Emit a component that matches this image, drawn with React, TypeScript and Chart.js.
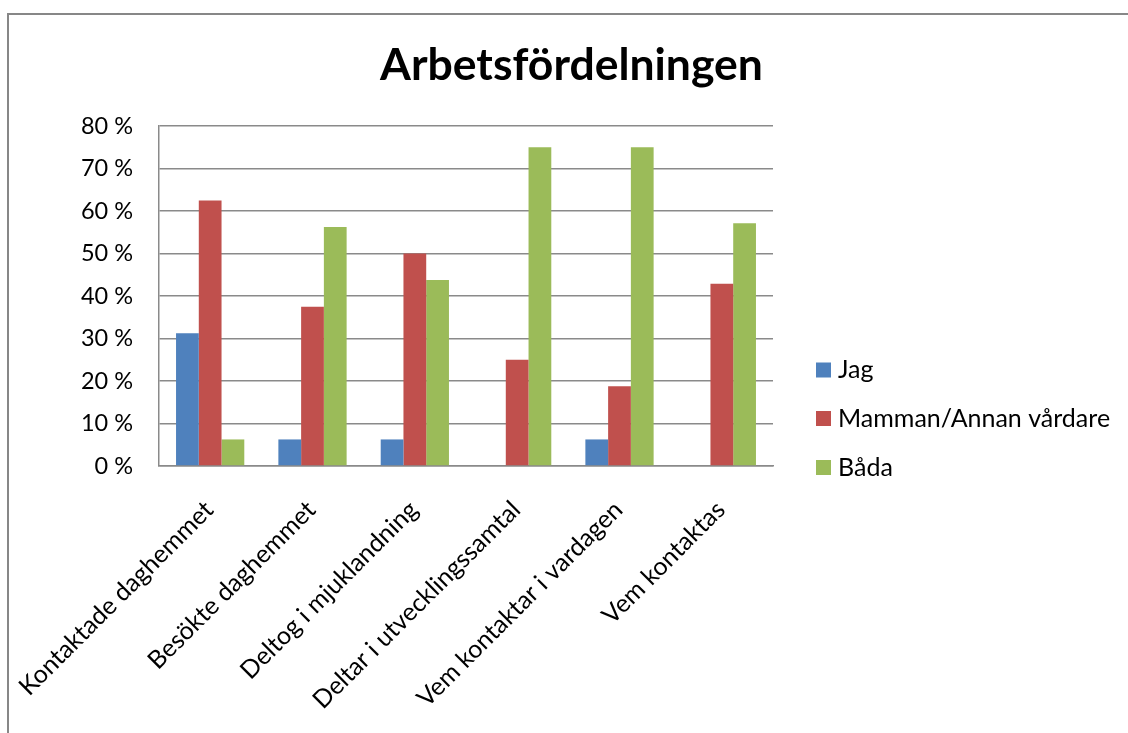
import React, { useEffect, useRef } from "react";
import { Chart, registerables } from "chart.js";

Chart.register(...registerables);

const TITLE = "Arbetsfördelningen";
const categories = [
  "Kontaktade daghemmet",
  "Besökte daghemmet",
  "Deltog i mjuklandning",
  "Deltar i utvecklingssamtal",
  "Vem kontaktar i vardagen",
  "Vem kontaktas",
];
const seriesNames = ["Jag", "Mamman/Annan vårdare", "Båda"];
const jagValues = [31.25, 6.25, 6.25, 0, 6.25, 0];
const mammanValues = [62.5, 37.5, 50, 25, 18.75, 42.86];
const badaValues = [6.25, 56.25, 43.75, 75, 75, 57.14];
const seriesColors = ["#4F81BD", "#C0504D", "#9BBB59"];
const yTicks = [0, 10, 20, 30, 40, 50, 60, 70, 80];

const FONT = "Lato, 'Open Sans', sans-serif";
const GRID = "#8a8a8a";

const legendPlugin = {
  id: "customLegend",
  afterDraw(chart: any) {
    const ctx = chart.ctx;
    const x0 = 816;
    const rows = [370, 418.5, 467.5];
    ctx.save();
    ctx.font = `25px ${FONT}`;
    ctx.textBaseline = "middle";
    ctx.textAlign = "left";
    chart.data.datasets.forEach((ds: any, i: number) => {
      const cy = rows[i];
      ctx.fillStyle = ds.backgroundColor;
      ctx.fillRect(x0, cy - 7.5, 15, 15);
      ctx.fillStyle = "#000";
      ctx.fillText(ds.label, x0 + 22, cy);
    });
    ctx.restore();
  },
};

export default function App() {
  const ref = useRef<HTMLCanvasElement>(null);
  useEffect(() => {
    if (!ref.current) return;
    const values = [jagValues, mammanValues, badaValues];
    const chart = new Chart(ref.current, {
      type: "bar",
      data: {
        labels: categories,
        datasets: seriesNames.map((name, i) => ({
          label: name,
          data: values[i],
          backgroundColor: seriesColors[i],
          borderWidth: 0,
          categoryPercentage: 0.667,
          barPercentage: 1,
          yAxisID: "y",
        })),
      },
      options: {
        animation: false,
        responsive: false,
        layout: { padding: { left: 15, right: 0, top: 0, bottom: 0 } },
        plugins: {
          legend: { display: false },
          tooltip: { enabled: false },
          title: {
            display: true,
            text: TITLE,
            color: "#000",
            font: { family: FONT, size: 44.5, weight: "bold", lineHeight: 1.2 },
            padding: { top: 39, bottom: 33.6 },
          },
        },
        scales: {
          x: {
            grid: { display: false, drawTicks: false },
            border: { display: true, color: GRID, width: 1.5 },
            ticks: {
              autoSkip: false,
              minRotation: 45,
              maxRotation: 45,
              padding: 29,
              labelOffset: -1,
              color: "#000",
              font: { family: FONT, size: 25 },
            },
            afterFit: (s: any) => {
              s.height = 267;
              s.paddingLeft = 0;
              s.paddingRight = 0;
            },
          },
          y: {
            min: 0,
            max: 80,
            afterBuildTicks: (s: any) => {
              s.ticks = yTicks.map((v) => ({ value: v }));
            },
            grid: { color: GRID, lineWidth: 1.5, drawTicks: false },
            border: { display: true, color: GRID, width: 1.5 },
            ticks: {
              padding: 26,
              color: "#000",
              font: { family: FONT, size: 23.5 },
              callback: (v: any) => `${v} %`,
            },
            afterFit: (s: any) => {
              s.width = 144;
            },
          },
          yR: {
            position: "right",
            display: true,
            grid: { display: false, drawTicks: false },
            border: { display: false },
            ticks: { display: false },
            afterFit: (s: any) => {
              s.width = 355;
            },
          },
        },
      },
      plugins: [legendPlugin],
    } as any);
    return () => chart.destroy();
  }, []);

  return (
    <div
      style={{
        position: "fixed",
        left: 0,
        top: 0,
        width: 1128,
        height: 733,
        overflow: "hidden",
        background: "#fff",
      }}
    >
      <div
        style={{
          position: "absolute",
          left: 7,
          top: 13,
          width: 1300,
          height: 900,
          border: "2px solid #878787",
          boxSizing: "border-box",
        }}
      />
      <canvas
        ref={ref}
        width={1128}
        height={733}
        style={{ position: "absolute", left: 0, top: 0, width: 1128, height: 733 }}
      />
    </div>
  );
}
